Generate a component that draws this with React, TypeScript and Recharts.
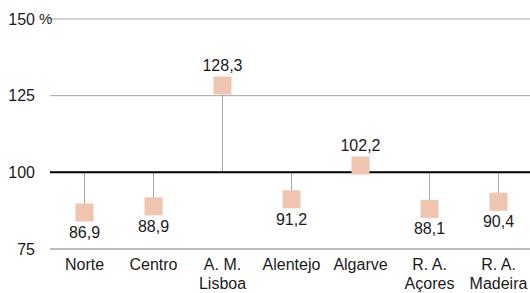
import { ComposedChart, Bar, Line, XAxis, YAxis, CartesianGrid, ReferenceLine, LabelList } from 'recharts';

// Regionen (NUTS II) und Indexwerte
const regions = ['Norte', 'Centro', 'A. M.\nLisboa', 'Alentejo', 'Algarve', 'R. A.\nAçores', 'R. A.\nMadeira'];
const values = [86.9, 88.9, 128.3, 91.2, 102.2, 88.1, 90.4];
const yTicks = [75, 100, 125, 150];
const baseValue = 100;

const colors = {
  marker: '#EFC5B1',
  stick: '#A6A6A6',
  grid: '#A6A6A6',
  text: '#1A1A1A',
};

const font = '"Liberation Sans", Arial, sans-serif';

const data = regions.map((name, i) => ({
  name,
  value: values[i],
  stick: [baseValue, values[i]],
}));

const fmt = (v: number) => v.toFixed(1).replace('.', ',');

function SquareDot(props: any) {
  const { cx, cy, index } = props;
  if (cx == null || cy == null) return null;
  return <rect key={index} x={cx - 9} y={cy - 9} width={18} height={18} fill={colors.marker} />;
}

function ValueLabel(props: any) {
  const { x, y, value } = props;
  const above = value >= baseValue;
  return (
    <text
      x={x}
      y={above ? y - 20 : y + 20}
      textAnchor="middle"
      dominantBaseline="central"
      fontSize={16}
      fontFamily={font}
      fill={colors.text}
    >
      {fmt(value)}
    </text>
  );
}

function CategoryTick(props: any) {
  const { x, y, payload } = props;
  const lines = String(payload.value).split('\n');
  return (
    <g>
      {lines.map((l, i) => (
        <text
          key={i}
          x={x}
          y={y + 7 + i * 19}
          textAnchor="middle"
          dominantBaseline="central"
          fontSize={16}
          fontFamily={font}
          fill={colors.text}
        >
          {l}
        </text>
      ))}
    </g>
  );
}

function ValueTick(props: any) {
  const { y, payload } = props;
  return (
    <g>
      <text x={27} y={y} textAnchor="end" dominantBaseline="central" fontSize={16} fontFamily={font} fill={colors.text}>
        {payload.value}
      </text>
      {payload.value === 150 && (
        <text x={31} y={y - 1} textAnchor="start" dominantBaseline="central" fontSize={15} fontFamily={font} fill={colors.text}>
          %
        </text>
      )}
    </g>
  );
}

export default function App() {
  return (
    <div style={{ position: 'absolute', left: 8, top: 8, width: 522, height: 285, overflow: 'hidden' }}>
      <ComposedChart width={530} height={285} data={data} margin={{ top: 11, right: 5, bottom: 0, left: 0 }}>
        <CartesianGrid vertical={false} stroke={colors.grid} strokeWidth={1} />
        <XAxis
          dataKey="name"
          height={44}
          axisLine={{ stroke: colors.grid, strokeWidth: 1 }}
          tickLine={false}
          interval={0}
          tick={<CategoryTick />}
        />
        <YAxis
          width={42}
          domain={[75, 150]}
          ticks={yTicks}
          axisLine={false}
          tickLine={false}
          tick={<ValueTick />}
        />
        <ReferenceLine y={baseValue} stroke="#000000" strokeWidth={2} />
        <Bar dataKey="stick" barSize={1} fill={colors.stick} isAnimationActive={false} />
        <Line
          dataKey="value"
          stroke="none"
          strokeWidth={0}
          dot={<SquareDot />}
          activeDot={false}
          isAnimationActive={false}
        >
          <LabelList dataKey="value" content={<ValueLabel />} />
        </Line>
      </ComposedChart>
    </div>
  );
}
